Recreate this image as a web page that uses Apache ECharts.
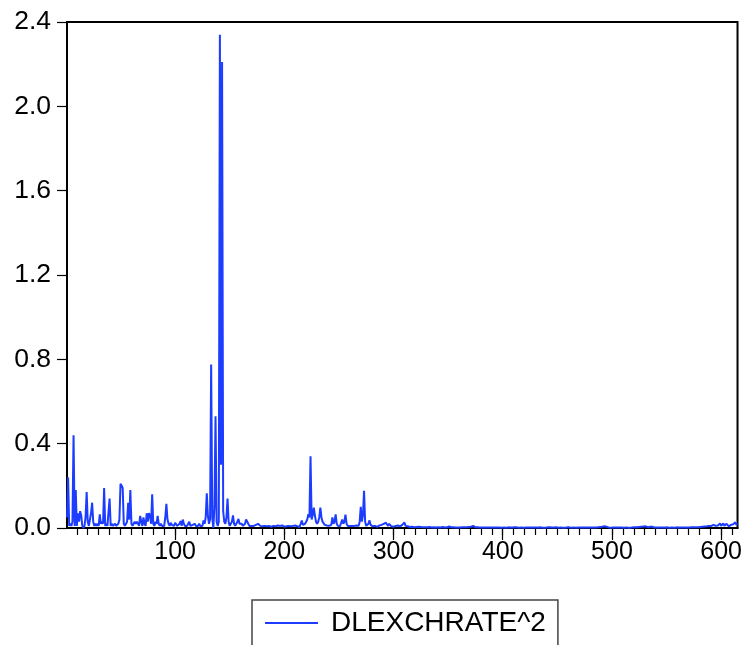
<!DOCTYPE html>
<html>
<head>
<meta charset="utf-8">
<script src="https://cdn.jsdelivr.net/npm/echarts@6/dist/echarts.min.js"></script>
<style>
html,body{margin:0;padding:0;background:#fff;}
#chart{width:745px;height:645px;}
</style>
</head>
<body>
<div id="chart"></div>
<script>
// Observations 1..615 of DLEXCHRATE^2
var seriesName = 'DLEXCHRATE^2';
var valuesPart1 = [ // obs 1-150
0.05, 0.24, 0.01, 0.02, 0.01, 0.03, 0.44, 0.01, 0.18, 0.01,
0.07, 0.03, 0.08, 0.06, 0.01, 0.00, 0.01, 0.05, 0.17, 0.03,
0.01, 0.01, 0.07, 0.12, 0.03, 0.01, 0.02, 0.01, 0.02, 0.01,
0.065, 0.02, 0.03, 0.02, 0.19, 0.01, 0.02, 0.01, 0.01, 0.14,
0.01, 0.02, 0.01, 0.01, 0.02, 0.01, 0.01, 0.02, 0.04, 0.21,
0.20, 0.19, 0.02, 0.01, 0.01, 0.03, 0.12, 0.04, 0.18, 0.02,
0.01, 0.02, 0.03, 0.02, 0.03, 0.02, 0.01, 0.057, 0.03, 0.01,
0.05, 0.02, 0.01, 0.07, 0.03, 0.07, 0.06, 0.02, 0.16, 0.02,
0.01, 0.03, 0.02, 0.057, 0.02, 0.01, 0.02, 0.01, 0.015, 0.01,
0.05, 0.115, 0.04, 0.02, 0.01, 0.025, 0.015, 0.02, 0.01, 0.025,
0.02, 0.01, 0.015, 0.02, 0.033, 0.01, 0.04, 0.02, 0.01, 0.015,
0.01, 0.02, 0.03, 0.01, 0.005, 0.015, 0.01, 0.02, 0.01, 0.015,
0.01, 0.02, 0.01, 0.005, 0.01, 0.036, 0.02, 0.05, 0.165, 0.06,
0.02, 0.04, 0.776, 0.05, 0.0, 0.1, 0.53, 0.03, 0.01, 0.03,
2.34, 0.3, 2.21, 0.08, 0.03, 0.02, 0.05, 0.14, 0.03, 0.01
];
var valuesPart2 = [ // obs 151-300
0.02, 0.03, 0.06, 0.02, 0.01, 0.02, 0.03, 0.043, 0.02, 0.025,
0.02, 0.01, 0.015, 0.02, 0.04, 0.041, 0.02, 0.01, 0.015, 0.01,
0.012, 0.01, 0.008, 0.015, 0.01, 0.02, 0.017, 0.01, 0.005, 0.008,
0.006, 0.01, 0.005, 0.008, 0.004, 0.01, 0.006, 0.005, 0.008, 0.01,
0.006, 0.008, 0.015, 0.012, 0.015, 0.01, 0.008, 0.012, 0.01, 0.006,
0.01, 0.008, 0.005, 0.01, 0.012, 0.008, 0.006, 0.01, 0.008, 0.012,
0.015, 0.008, 0.01, 0.005, 0.02, 0.035, 0.015, 0.01, 0.02, 0.03,
0.04, 0.065, 0.05, 0.34, 0.04, 0.06, 0.097, 0.06, 0.03, 0.02,
0.03, 0.05, 0.097, 0.05, 0.03, 0.027, 0.015, 0.01, 0.012, 0.008,
0.01, 0.008, 0.015, 0.05, 0.02, 0.03, 0.065, 0.02, 0.01, 0.012,
0.008, 0.015, 0.04, 0.02, 0.03, 0.063, 0.02, 0.01, 0.012, 0.01,
0.008, 0.01, 0.006, 0.01, 0.008, 0.012, 0.02, 0.01, 0.03, 0.1,
0.03, 0.06, 0.176, 0.03, 0.01, 0.012, 0.02, 0.036, 0.015, 0.01,
0.008, 0.006, 0.01, 0.008, 0.005, 0.01, 0.012, 0.008, 0.015, 0.01,
0.02, 0.015, 0.025, 0.033, 0.01, 0.02, 0.012, 0.008, 0.01, 0.006
];
var valuesPart3 = [ // obs 301-450
0.008, 0.01, 0.013, 0.012, 0.006, 0.008, 0.01, 0.015, 0.012, 0.026,
0.01, 0.006, 0.008, 0.01, 0.005, 0.008, 0.006, 0.01, 0.004, 0.006,
0.005, 0.004, 0.006, 0.003, 0.005, 0.004, 0.003, 0.005, 0.004, 0.003,
0.004, 0.003, 0.005, 0.003, 0.002, 0.004, 0.003, 0.004, 0.002, 0.003,
0.003, 0.004, 0.002, 0.003, 0.005, 0.003, 0.002, 0.004, 0.003, 0.005,
0.007, 0.006, 0.003, 0.002, 0.003, 0.004, 0.002, 0.003, 0.002, 0.003,
0.002, 0.003, 0.004, 0.002, 0.003, 0.002, 0.004, 0.003, 0.005, 0.004,
0.006, 0.008, 0.01, 0.005, 0.003, 0.002, 0.003, 0.004, 0.002, 0.003,
0.002, 0.003, 0.002, 0.001, 0.002, 0.003, 0.002, 0.001, 0.002, 0.003,
0.002, 0.001, 0.002, 0.003, 0.002, 0.001, 0.002, 0.002, 0.001, 0.002,
0.003, 0.002, 0.001, 0.002, 0.003, 0.004, 0.002, 0.001, 0.002, 0.003,
0.004, 0.005, 0.003, 0.002, 0.001, 0.002, 0.003, 0.002, 0.001, 0.002,
0.002, 0.001, 0.002, 0.003, 0.002, 0.001, 0.002, 0.001, 0.002, 0.003,
0.002, 0.001, 0.002, 0.002, 0.003, 0.002, 0.001, 0.002, 0.001, 0.002,
0.003, 0.002, 0.004, 0.003, 0.002, 0.001, 0.002, 0.003, 0.004, 0.002
];
var valuesPart4 = [ // obs 451-615
0.001, 0.002, 0.003, 0.002, 0.001, 0.002, 0.001, 0.002, 0.003, 0.002,
0.003, 0.002, 0.001, 0.002, 0.003, 0.002, 0.001, 0.002, 0.002, 0.001,
0.002, 0.003, 0.002, 0.001, 0.002, 0.001, 0.002, 0.003, 0.002, 0.001,
0.002, 0.003, 0.002, 0.001, 0.002, 0.004, 0.003, 0.002, 0.005, 0.004,
0.006, 0.005, 0.008, 0.01, 0.006, 0.004, 0.003, 0.002, 0.001, 0.002,
0.002, 0.001, 0.002, 0.003, 0.002, 0.001, 0.002, 0.001, 0.002, 0.002,
0.001, 0.002, 0.003, 0.002, 0.001, 0.002, 0.001, 0.002, 0.003, 0.002,
0.003, 0.002, 0.004, 0.003, 0.005, 0.004, 0.006, 0.008, 0.007, 0.012,
0.008, 0.006, 0.004, 0.005, 0.006, 0.004, 0.006, 0.003, 0.002, 0.003,
0.002, 0.003, 0.002, 0.001, 0.002, 0.003, 0.002, 0.001, 0.002, 0.002,
0.003, 0.002, 0.001, 0.002, 0.003, 0.002, 0.001, 0.002, 0.003, 0.002,
0.002, 0.003, 0.002, 0.001, 0.002, 0.003, 0.002, 0.003, 0.002, 0.001,
0.002, 0.003, 0.004, 0.002, 0.003, 0.004, 0.003, 0.005, 0.004, 0.006,
0.005, 0.008, 0.006, 0.012, 0.007, 0.005, 0.008, 0.006, 0.01, 0.007,
0.01, 0.008, 0.015, 0.022, 0.01, 0.008, 0.012, 0.018, 0.022, 0.01,
0.012, 0.022, 0.01, 0.015, 0.02, 0.012, 0.008, 0.01, 0.015, 0.012,
0.018, 0.02, 0.027, 0.015, 0.02
];
var xLabelValues = [100, 200, 300, 400, 500, 600];
var xMinorTickValues = [10,20,30,40,50,60,70,80,90,100,110,120,130,140,150,160,170,180,190,200,210,220,230,240,250,260,270,280,290,300,310,320,330,340,350,360,370,380,390,400,410,420,430,440,450,460,470,480,490,500,510,520,530,540,550,560,570,580,590,600,610];
var yTickValues = [0.0, 0.4, 0.8, 1.2, 1.6, 2.0, 2.4];

var values = valuesPart1.concat(valuesPart2, valuesPart3, valuesPart4);
var points = values.map(function (v, i) { return [i + 1, v]; });
var nObs = values.length;

var FONT = "'Liberation Sans', Arial, sans-serif";
var chart = echarts.init(document.getElementById('chart'), null, {renderer: 'canvas'});
chart.setOption({
  animation: false,
  backgroundColor: '#ffffff',
  grid: {
    left: 67, top: 22, right: 3, bottom: 117,
    show: true, borderColor: '#000', borderWidth: 2, backgroundColor: 'transparent'
  },
  legend: {
    left: 252, top: 600,
    padding: [9, 12, 22, 13],
    borderColor: '#444', borderWidth: 1.5, borderRadius: 0,
    itemWidth: 53, itemHeight: 2, itemGap: 10,
    textStyle: {fontFamily: FONT, fontSize: 28, color: '#000', padding: [0, 0, 0, 8]},
    data: [{name: seriesName, icon: 'rect'}]
  },
  xAxis: [{
    type: 'value', min: 1, max: nObs,
    axisLine: {show: true, onZero: false, lineStyle: {color: '#000', width: 2}},
    axisTick: {show: true, length: 7, lineStyle: {color: '#000', width: 1.2}, customValues: xMinorTickValues},
    axisLabel: {show: true, fontFamily: FONT, fontSize: 25, color: '#000', margin: 12, customValues: xLabelValues},
    splitLine: {show: false}
  }, {
    type: 'value', min: 1, max: nObs, position: 'bottom',
    axisLine: {show: false},
    axisTick: {show: true, length: 12, lineStyle: {color: '#000', width: 1.2}, customValues: xLabelValues},
    axisLabel: {show: false},
    splitLine: {show: false}
  }],
  yAxis: {
    type: 'value', min: 0, max: 2.4, interval: 0.4,
    axisLine: {show: true, onZero: false, lineStyle: {color: '#000', width: 2}},
    axisTick: {show: true, length: 10, lineStyle: {color: '#000', width: 1.2}, customValues: yTickValues},
    axisLabel: {fontFamily: FONT, fontSize: 26.5, color: '#000', margin: 16,
      formatter: function (v) { return v.toFixed(1); }},
    splitLine: {show: false}
  },
  series: [{
    name: seriesName,
    type: 'line',
    xAxisIndex: 0,
    data: points,
    showSymbol: false,
    symbol: 'none',
    lineStyle: {color: '#1c3cff', width: 2},
    itemStyle: {color: '#1c3cff'},
    clip: true
  }]
});
</script>
</body>
</html>
